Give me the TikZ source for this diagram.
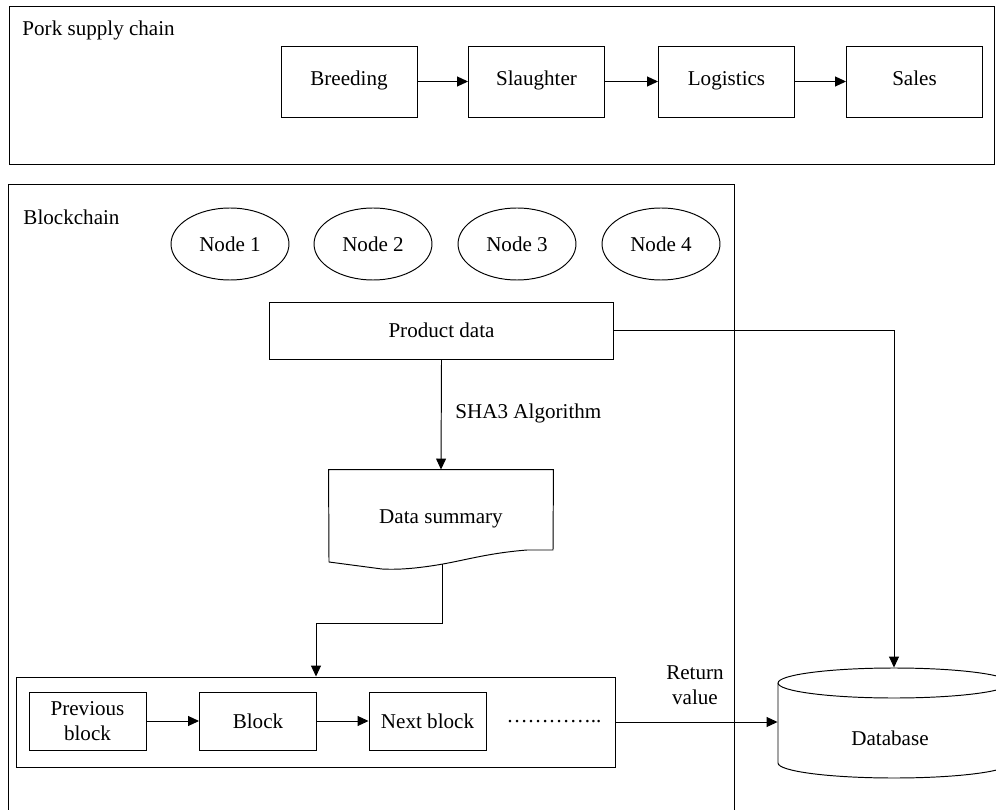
\documentclass[tikz,border=0pt]{standalone}
\usepackage{fontspec}
\setmainfont{Liberation Serif}
\usetikzlibrary{arrows.meta,shapes.geometric}

\begin{document}
\begin{tikzpicture}[x=0.02cm, y=-0.02cm, line width=0.55pt,
  font=\fontsize{12}{14}\selectfont,
  stage/.style={draw, minimum width=2.72cm, minimum height=1.42cm, inner sep=0pt,
    text height=1.6ex, text depth=.5ex},
  peer/.style={draw, ellipse, minimum width=2.36cm, minimum height=1.44cm, inner sep=0pt},
  blk/.style={draw, minimum width=2.34cm, minimum height=1.16cm, inner sep=0pt, align=center},
  flow/.style={-{Triangle[length=2.2mm, width=2mm]}},
  frametitle/.style={anchor=west, inner sep=0pt}]
\useasboundingbox (0,0) rectangle (996,810);

% Pork supply chain
\draw (9,6) rectangle (994,164);
\node[frametitle] (pork) at (22,30) {Pork supply chain};
\node[stage] (breed) at (349,81.5) {Breeding};
\node[stage] (slaught) at (536.5,81.5) {Slaughter};
\node[stage] (logi) at (726.5,81.5) {Logistics};
\node[stage] (sales) at (914.5,81.5) {Sales};
\draw[flow] (breed) -- (slaught);
\draw[flow] (slaught) -- (logi);
\draw[flow] (logi) -- (sales);

% Blockchain
\draw (8,815) -- (8,184) -- (734,184) -- (734,815);
\node[frametitle] (bc) at (23,217) {Blockchain};
\foreach \i/\x in {1/230,2/373,3/517,4/661}
  \node[peer] (n\i) at (\x,244) {Node \i};

\node[draw, minimum width=6.9cm, minimum height=1.14cm] (prod) at (441.5,330.5) {Product data};
\node[frametitle] (sha) at (455,413) {SHA3 Algorithm};

\node[minimum width=4.48cm, minimum height=1.96cm, inner sep=0pt] (summ) at (441,519) {Data summary};
\draw (329,562) -- (summ.north west) -- (summ.north east) -- (553,550) -- (527,550)
  .. controls (490,553) and (470,559) .. (443,564)
  .. controls (420,568) and (400,570) .. (382,569) -- cycle;
\coordinate (wave) at (442,564);
\draw[flow] (prod.south) -- (summ.north);

% chain of blocks
\node[draw, minimum width=12cm, minimum height=1.8cm, inner sep=0pt] (chain) at (316,722) {};
\node[blk] (prev) at (87.5,721) {Previous\\block};
\node[blk] (cur) at (258,721) {Block};
\node[blk] (next) at (427.5,721) {Next block};
\node (dots) at (554,722) {\ldots\ldots\ldots\ldots..};
\draw[flow] (prev) -- (cur);
\draw[flow] (cur) -- (next);
\draw[flow] (wave) -- ++(0,59) -| (chain.north);

% Database
\node[minimum width=4.64cm, minimum height=2.2cm, inner sep=0pt] (db) at (894,723) {};
\draw (894,683) ellipse [x radius=2.32cm, y radius=0.3cm];
\draw (778,683) -- (778,763) arc[start angle=180, end angle=360, x radius=2.32cm, y radius=0.3cm] -- (1010,683);
\node (dbtext) at (890,738) {Database};
\node[align=center] (ret) at (695,685) {Return\\value};
\draw[flow] (chain.east) -- (chain.east -| db.west);
\draw[flow] (prod.east) -| (db.north);
\end{tikzpicture}
\end{document}
